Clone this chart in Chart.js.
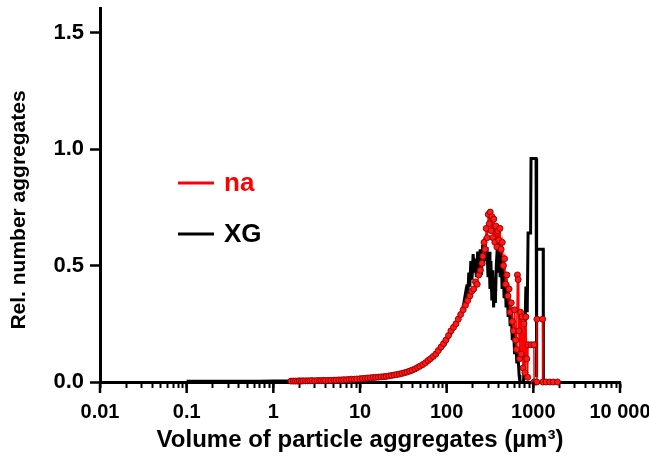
<!DOCTYPE html>
<html>
<head>
<meta charset="utf-8">
<script src="https://cdn.jsdelivr.net/npm/chart.js@4.4.1/dist/chart.umd.min.js"></script>
<style>
  html, body { margin: 0; padding: 0; background: #fff; }
  #wrap { width: 649px; height: 456px; }
</style>
</head>
<body>
<div id="wrap"><canvas id="mychart" width="649" height="456"></canvas></div>
<script>
// volume (µm³) and relative number
const naX = [1.6, 1.7, 1.8, 1.9, 2.0, 2.1, 2.2, 2.35, 2.5, 2.65, 2.8, 3.0, 3.2, 3.4, 3.6, 3.8, 4.0, 4.3, 4.6, 5.0,
  5.3, 5.7, 6.1, 6.5, 7.0, 7.5, 8.0, 8.6, 9.2, 10, 10.7, 11.5, 12.3, 13.2, 14.2, 15.2, 16.3, 17.5, 18.8, 20,
  21.5, 23, 24.7, 26.5, 28.5, 30.5, 32.7, 35, 37.5, 40, 43, 46, 49, 53, 57, 61, 65, 70, 75, 80,
  86, 92, 98, 105, 112, 120, 128, 136, 145, 155, 165, 175, 185, 195,
  205, 215, 225, 235, 245, 255, 262, 270, 278, 286, 294, 302, 310, 318, 326, 334, 342, 350, 360, 370,
  380, 390, 400, 412, 425, 438, 452, 466, 480, 495, 510, 525, 540, 556, 572, 590, 608, 625, 640, 655,
  668, 680, 695, 710, 725, 740, 760, 780, 800, 820, 840, 860, 870, 940, 1015, 1020, 1060, 1095, 1100, 1280,
  1290, 1400, 1550, 1700, 1900];
const naY = [0.004, 0.004, 0.004, 0.004, 0.005, 0.004, 0.005, 0.005, 0.005, 0.005, 0.006, 0.005, 0.006, 0.006, 0.006, 0.007, 0.006, 0.007, 0.007, 0.008,
  0.008, 0.009, 0.009, 0.010, 0.010, 0.011, 0.012, 0.012, 0.013, 0.014, 0.015, 0.016, 0.017, 0.018, 0.019, 0.020, 0.021, 0.022, 0.023, 0.024,
  0.026, 0.028, 0.030, 0.032, 0.034, 0.037, 0.040, 0.043, 0.047, 0.051, 0.056, 0.062, 0.068, 0.075, 0.083, 0.092, 0.10, 0.11, 0.12, 0.135,
  0.15, 0.165, 0.18, 0.20, 0.22, 0.235, 0.25, 0.27, 0.29, 0.31, 0.33, 0.35, 0.37, 0.39,
  0.40, 0.43, 0.42, 0.46, 0.48, 0.51, 0.54, 0.60, 0.57, 0.66, 0.62, 0.72, 0.68, 0.73, 0.65, 0.71, 0.62, 0.70, 0.60, 0.67,
  0.58, 0.65, 0.61, 0.66, 0.57, 0.60, 0.50, 0.53, 0.42, 0.46, 0.37, 0.40, 0.30, 0.34, 0.26, 0.22, 0.31, 0.18, 0.14, 0.46,
  0.44, 0.22, 0.10, 0.30, 0.12, 0.28, 0.06, 0.25, 0.04, 0.28, 0.10, 0.02, 0.16, 0.16, 0.16, 0.0, 0.0, 0.0, 0.27, 0.27,
  0.0, 0.0, 0.0, 0.0, 0.0];

const xgX = [0.1, 0.15, 0.2, 0.3, 0.5, 0.7, 1, 1.5, 2, 3, 4, 6, 8, 10, 13, 16, 20, 25, 30, 36,
  42, 50, 58, 66, 75, 85, 95, 105, 115, 125, 135, 145, 152, 158, 163, 168, 172, 176, 180, 185,
  190, 196, 202, 208, 214, 220, 228, 236, 244, 252, 260, 268, 276, 284, 292, 300, 308, 316, 324, 332,
  340, 348, 356, 365, 374, 384, 394, 404, 414, 425, 436, 448, 460, 472, 485, 498, 512, 526, 540, 556,
  572, 590, 608, 626, 645, 665, 685, 700, 770, 790, 820, 850, 870, 930, 940, 1075, 1080, 1095, 1100, 1300,
  1305, 1400];
const xgY = [0.003, 0.003, 0.003, 0.003, 0.003, 0.003, 0.004, 0.004, 0.005, 0.006, 0.007, 0.009, 0.011, 0.013, 0.016, 0.019, 0.023, 0.028, 0.034, 0.041,
  0.05, 0.064, 0.08, 0.095, 0.115, 0.14, 0.16, 0.19, 0.215, 0.24, 0.26, 0.29, 0.31, 0.34, 0.37, 0.33, 0.42, 0.38, 0.47, 0.41,
  0.52, 0.44, 0.55, 0.47, 0.53, 0.45, 0.56, 0.48, 0.57, 0.46, 0.59, 0.50, 0.62, 0.52, 0.58, 0.45, 0.56, 0.40, 0.52, 0.35,
  0.48, 0.32, 0.44, 0.34, 0.50, 0.58, 0.47, 0.62, 0.45, 0.56, 0.40, 0.50, 0.36, 0.46, 0.32, 0.42, 0.28, 0.36, 0.24, 0.30,
  0.18, 0.24, 0.12, 0.18, 0.08, 0.12, 0.03, 0.0, 0.0, 0.12, 0.41, 0.30, 0.64, 0.64, 0.96, 0.96, 0.02, 0.02, 0.57, 0.57,
  0.0, 0.0];

const seriesNames = ['na', 'XG'];
const seriesColors = ['#ff0000', '#000000'];
const xMajor = [0.01, 0.1, 1, 10, 100, 1000, 10000];
const xTickLabels = ['0.01', '0.1', '1', '10', '100', '1000', '10 000'];
const yTitle = 'Rel. number aggregates';

const FONT = '"Liberation Sans", Arial, sans-serif';
Chart.defaults.font.family = FONT;
Chart.defaults.color = '#000';

function toPoints(xs, ys) {
    return xs.map((x, i) => ({ x: x, y: ys[i] }))
}

// long ticks at decades, y title and the legend inside the plot
const extras = {
    id: 'extras',
    afterDraw(chart) {
        const ctx = chart.ctx
        const xs = chart.scales.x
        const area = chart.chartArea
        ctx.save()
        ctx.strokeStyle = '#000'
        ctx.lineWidth = 2.5
        xs.ticks.forEach((t, i) => {
            if (!t.major) return
            const px = xs.getPixelForTick(i)
            ctx.beginPath()
            ctx.moveTo(px, area.bottom)
            ctx.lineTo(px, area.bottom + 11)
            ctx.stroke()
        })

        // y title, a bit below the middle like the original
        ctx.save()
        ctx.translate(19, 210)
        ctx.rotate(-Math.PI / 2)
        ctx.font = 'bold 21px ' + FONT
        ctx.textAlign = 'center'
        ctx.textBaseline = 'middle'
        ctx.fillStyle = '#000'
        ctx.fillText(yTitle, 0, 0)
        ctx.restore()

        ctx.font = 'bold 26px ' + FONT
        ctx.textBaseline = 'middle'
        chart.data.datasets.forEach((ds, i) => {
            const yy = 183 + i * 51
            ctx.strokeStyle = seriesColors[i]
            ctx.lineWidth = 3
            ctx.beginPath()
            ctx.moveTo(178, yy)
            ctx.lineTo(214, yy)
            ctx.stroke()
            ctx.fillStyle = seriesColors[i]
            ctx.fillText(ds.label, 224, yy + 1)
        })
        ctx.restore()
    }
}

const ctx = document.getElementById('mychart').getContext('2d')
const chart = new Chart(ctx, {
    type: 'line',
    data: {
        datasets: [
            {
                label: seriesNames[0],
                data: toPoints(naX, naY),
                borderColor: seriesColors[0],
                borderWidth: 1.5,
                pointRadius: 3,
                pointBackgroundColor: '#ff1a1a',
                pointBorderColor: '#a00000',
                pointBorderWidth: 1,
                tension: 0,
                clip: false
            },
            {
                label: seriesNames[1],
                data: toPoints(xgX, xgY),
                borderColor: seriesColors[1],
                borderWidth: 3,
                pointRadius: 0,
                tension: 0,
                clip: false
            }
        ]
    },
    options: {
        responsive: false,
        animation: false,
        events: [],
        layout: { padding: { top: 8, right: 29, left: 0, bottom: 0 } },
        plugins: { legend: { display: false }, tooltip: { enabled: false } },
        scales: {
            x: {
                type: 'logarithmic',
                min: 0.01,
                max: 10000,
                afterBuildTicks: function (scale) {
                    const t = []
                    xMajor.forEach((v, i) => {
                        t.push({ value: v, major: true })
                        if (i < xMajor.length - 1) {
                            for (let m = 2; m <= 9; m++) t.push({ value: v * m, major: false })
                        }
                    })
                    scale.ticks = t
                },
                afterFit: function (scale) {
                    scale.height = 74
                    scale.paddingRight = 0
                    scale.paddingLeft = 0
                },
                ticks: {
                    autoSkip: false,
                    maxRotation: 0,
                    minRotation: 0,
                    padding: 12,
                    font: { size: 20, weight: 'bold' },
                    callback: function (value) {
                        const k = xMajor.findIndex(m => Math.abs(m - value) / m < 1e-6)
                        return k >= 0 ? xTickLabels[k] : ''
                    }
                },
                grid: { drawOnChartArea: false, drawTicks: true, tickLength: 6, tickWidth: 2, tickColor: '#000' },
                border: { display: true, width: 3, color: '#000' },
                title: {
                    display: true,
                    text: 'Volume of particle aggregates (µm³)',
                    font: { size: 24, weight: 'bold' },
                    padding: { top: 0, bottom: 1 }
                }
            },
            y: {
                min: 0,
                max: 1.607,
                afterFit: function (scale) {
                    scale.width = 100
                    scale.paddingTop = 0
                    scale.paddingBottom = 0
                },
                ticks: {
                    stepSize: 0.5,
                    includeBounds: false,
                    padding: 6,
                    font: { size: 22, weight: 'bold' },
                    callback: v => v.toFixed(1)
                },
                grid: { drawOnChartArea: false, drawTicks: true, tickLength: 10, tickWidth: 2.5, tickColor: '#000' },
                border: { display: true, width: 3, color: '#000' }
            }
        }
    },
    plugins: [extras]
})
</script>
</body>
</html>
